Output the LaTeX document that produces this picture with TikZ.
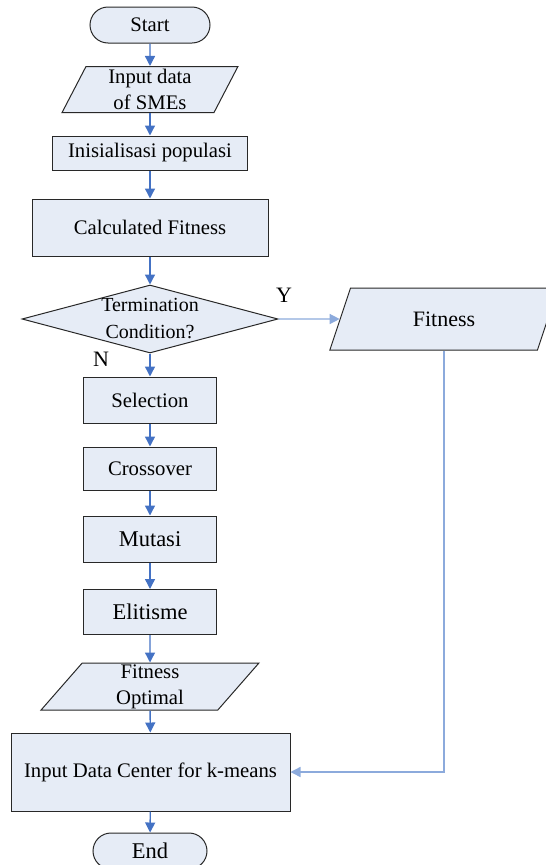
\documentclass[tikz,border=0pt]{standalone}
\usepackage{fontspec}
\setmainfont{Liberation Serif}
\usepackage{tikz}
\usetikzlibrary{shapes.geometric, arrows.meta, positioning}

\definecolor{boxfill}{RGB}{230, 236, 246}
\definecolor{boxline}{RGB}{40, 40, 40}
\definecolor{flowblue}{RGB}{68, 114, 196}
\definecolor{flowlight}{RGB}{140, 170, 220}

\tikzset{
  basebox/.style={draw=boxline, fill=boxfill, line width=1pt, inner sep=0pt, align=center,
    font=\fontsize{20.7}{26}\selectfont},
  procbox/.style={basebox, rectangle},
  termbox/.style={basebox, rectangle, rounded corners=18pt},
  iobox/.style={basebox, trapezium, trapezium stretches=true},
  decbox/.style={basebox, diamond, aspect=3.7, font=\fontsize{20}{27}\selectfont},
  flowline/.style={draw=flowblue, line width=1.4pt, -{Triangle[length=10pt, width=10pt]}},
  backline/.style={draw=flowlight, line width=1.4pt, -{Triangle[length=10pt, width=10pt]}},
  yn/.style={font=\fontsize{22}{26}\selectfont}
}

\begin{document}
\begin{tikzpicture}[x=1pt, y=-1pt]
  \useasboundingbox (0,0) rectangle (546,865);
  \clip (0,0) rectangle (546,865);

  % main column
  \node[termbox, minimum width=120pt, minimum height=36pt] (start) at (150,25) {Start};
  \node[iobox, trapezium left angle=69, trapezium right angle=111,
        minimum width=176pt, minimum height=46pt] (indata) at (150,89.5) {Input data\\of SMEs};
  \node[procbox, minimum width=195pt, minimum height=34pt] (init) at (150,153) {Inisialisasi populasi};
  \node[procbox, minimum width=236pt, minimum height=57pt] (calc) at (150,227.5) {Calculated Fitness};
  \node[decbox, minimum width=256pt, minimum height=68pt] (cond) at (150,319) {Termination\\Condition?};
  \node[procbox, minimum width=133pt, minimum height=46pt] (sel) at (150,400) {Selection};
  \node[procbox, minimum width=133pt, minimum height=43pt] (cross) at (150,468.5) {Crossover};
  \node[procbox, minimum width=133pt, minimum height=46pt, font=\fontsize{22.5}{26}\selectfont]
        (mut) at (150,539) {Mutasi};
  \node[procbox, minimum width=133pt, minimum height=45pt, font=\fontsize{22.5}{26}\selectfont]
        (elit) at (150,612) {Elitisme};
  \node[iobox, trapezium left angle=65, trapezium right angle=115,
        minimum width=218pt, minimum height=47pt] (fitopt) at (150,686.5) {Fitness\\Optimal};
  \node[procbox, minimum width=279pt, minimum height=78pt] (center) at (150.5,772) {Input Data Center for k-means};
  \node[termbox, minimum width=114pt, minimum height=36pt, font=\fontsize{22.5}{26}\selectfont]
        (end) at (150,851) {End};

  % yes branch
  \node[iobox, trapezium left angle=65, trapezium right angle=115,
        minimum width=229pt, minimum height=62pt, font=\fontsize{22}{26}\selectfont]
        (fitness) at (444,319) {Fitness};
  \coordinate (turn) at (fitness.center |- center.east);

  \node[yn] (ylabel) at (284,295) {Y};
  \node[yn] (nlabel) at (101,359) {N};

  \draw[flowline] (start) -- (indata);
  \draw[flowline] (indata) -- (init);
  \draw[flowline] (init) -- (calc);
  \draw[flowline] (calc) -- (cond);
  \draw[flowline] (cond) -- (sel);
  \draw[flowline] (sel) -- (cross);
  \draw[flowline] (cross) -- (mut);
  \draw[flowline] (mut) -- (elit);
  \draw[flowline] (elit) -- (fitopt);
  \draw[flowline] (fitopt) -- (center);
  \draw[flowline] (center) -- (end);
  \draw[backline] (cond.east) -- (fitness.west);
  \draw[backline] (fitness.center |- fitness.south) -- (turn) -- (center.east);
\end{tikzpicture}
\end{document}
